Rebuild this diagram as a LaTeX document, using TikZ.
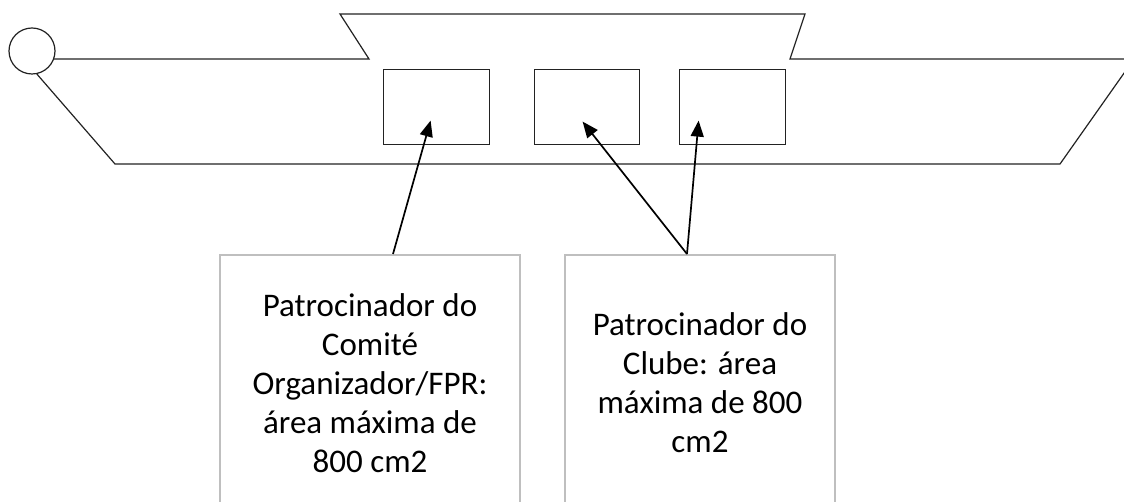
\documentclass[tikz,border=0pt]{standalone}
\usepackage{fontspec}
\setmainfont{Carlito}
\usetikzlibrary{arrows.meta}
\definecolor{boxgray}{HTML}{BFBFBF}
\definecolor{linegray}{HTML}{222222}
\begin{document}
\begin{tikzpicture}[x=1pt,y=-1pt,
  outline/.style={draw=linegray,line width=1.2pt,line join=miter},
  spot/.style={draw=linegray,line width=1.2pt,minimum width=106pt,minimum height=75pt,inner sep=0pt,anchor=north west},
  note/.style={draw=boxgray,line width=2pt,minimum width=300pt,minimum height=256pt,anchor=north,inner sep=0pt,align=center,font=\fontsize{33}{39}\selectfont},
  ptr/.style={draw=black,line width=1.7pt,-{Triangle[length=16pt,width=13pt]}}]
\clip (0,0) rectangle (1124,502);
\node[draw=linegray,line width=1.2pt,circle,minimum size=46pt,inner sep=0pt] (ring) at (32,51) {};
\draw[outline] (ring.-20) -- (369,59) -- (340,14) -- (805,14) -- (790,59) -- (1140,59);
\draw[outline] (ring.-78) -- (115,164) -- (1060,164) -- (1134,59);
\node[spot] (spot1) at (383,69) {};
\node[spot,minimum width=105pt] (spot2) at (534,69) {};
\node[spot] (spot3) at (679,69) {};
\node[note] (note1) at (370,254) {Patrocinador do\\Comité\\Organizador/FPR:\\área máxima de\\800 cm2};
\node[note,minimum width=270pt] (note2) at (700,254) {Patrocinador do\\Clube: área\\máxima de 800\\cm2};
\draw[ptr] ([xshift=23pt]note1.north) -- ([xshift=-6pt,yshift=-13.5pt]spot1.center);
\draw[ptr] ([xshift=-13pt]note2.north) -- ([xshift=-4.5pt,yshift=-14.5pt]spot2.center);
\draw[ptr] ([xshift=-13pt]note2.north) -- ([xshift=-34pt,yshift=-13.5pt]spot3.center);
\end{tikzpicture}
\end{document}
